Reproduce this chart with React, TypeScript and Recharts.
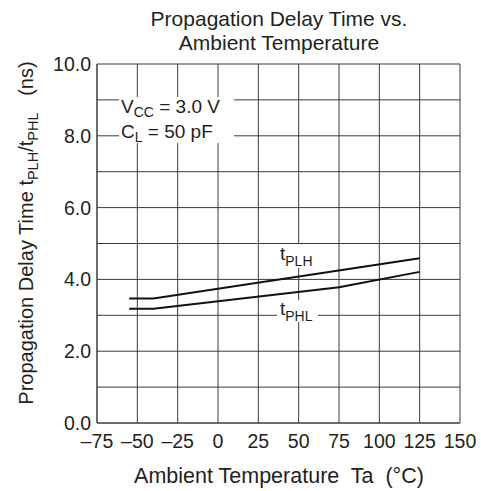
import { LineChart, Line, XAxis, YAxis, CartesianGrid, Customized } from "recharts";

const X_TICKS = [-75, -50, -25, 0, 25, 50, 75, 100, 125, 150];
const Y_TICKS = [0, 1, 2, 3, 4, 5, 6, 7, 8, 9, 10];

const TEMP_PLH = [-55, -40, 125];
const DELAY_PLH = [3.47, 3.47, 4.59];
const TEMP_PHL = [-55, -40, 75, 125];
const DELAY_PHL = [3.18, 3.18, 3.78, 4.21];

const plh = TEMP_PLH.map((t, i) => ({ t, v: DELAY_PLH[i] }));
const phl = TEMP_PHL.map((t, i) => ({ t, v: DELAY_PHL[i] }));

const FONT = "'Liberation Sans', Arial, sans-serif";
const TXT = "#231f20";
const GRID = "#3a3a3a";

const fmtX = (v: number) => (v < 0 ? "\u2013" + Math.abs(v) : String(v));

const XTick = (p: any) => (
  <text x={p.x} y={p.y} dy={25} textAnchor="middle" fontSize={19.5} fill={TXT} fontFamily={FONT}>
    {fmtX(p.payload.value)}
  </text>
);

const YTick = (p: any) =>
  p.payload.value % 2 === 0 ? (
    <text x={p.x} y={p.y} dy={7} textAnchor="end" fontSize={19.5} fill={TXT} fontFamily={FONT}>
      {p.payload.value.toFixed(1)}
    </text>
  ) : null;

const Notes = () => (
  <g fontFamily={FONT} fill={TXT}>
    <text x={279} y={26} textAnchor="middle" fontSize={21}>Propagation Delay Time vs.</text>
    <text x={279} y={50} textAnchor="middle" fontSize={21}>Ambient Temperature</text>

    <rect x={119} y={97} width={115} height={46} fill="#fff" />
    <text x={121} y={113} fontSize={19}>
      <tspan>V</tspan>
      <tspan fontSize={14} dy={4}>CC</tspan>
      <tspan dy={-4}> = 3.0 V</tspan>
    </text>
    <text x={121} y={138} fontSize={19}>
      <tspan>C</tspan>
      <tspan fontSize={14} dy={4}>L</tspan>
      <tspan dy={-4}> = 50 pF</tspan>
    </text>

    <rect x={278} y={244} width={40} height={24} fill="#fff" />
    <text x={280} y={260} fontSize={19}>
      <tspan>t</tspan>
      <tspan fontSize={14} dy={6}>PLH</tspan>
    </text>
    <rect x={277} y={300} width={41} height={22} fill="#fff" />
    <text x={280} y={315} fontSize={19}>
      <tspan>t</tspan>
      <tspan fontSize={14} dy={6}>PHL</tspan>
    </text>

    <text x={33} y={233} textAnchor="middle" fontSize={20} transform="rotate(-90 33 233)">
      <tspan>Propagation Delay Time t</tspan>
      <tspan fontSize={14.5} dy={5}>PLH</tspan>
      <tspan dy={-5}>/t</tspan>
      <tspan fontSize={14.5} dy={5}>PHL</tspan>
      <tspan dy={-5} xmlSpace="preserve">{"   (ns)"}</tspan>
    </text>

    <text x={279} y={483} textAnchor="middle" fontSize={21.5} xmlSpace="preserve">
      {"Ambient Temperature  Ta  (\u00B0C)"}
    </text>
  </g>
);

export default function App() {
  return (
    <div style={{ position: "absolute", left: 0, top: 0, background: "#fff" }}>
      <LineChart width={481} height={491} margin={{ top: 64, right: 21, bottom: 0, left: 0 }}>
        <CartesianGrid stroke={GRID} strokeWidth={1} />
        <XAxis
          type="number"
          dataKey="t"
          domain={[-75, 150]}
          ticks={X_TICKS}
          interval={0}
          tickLine={false}
          tickSize={0}
          tickMargin={0}
          axisLine={{ stroke: GRID }}
          tick={<XTick />}
          height={68}
        />
        <YAxis
          type="number"
          dataKey="v"
          domain={[0, 10]}
          ticks={Y_TICKS}
          interval={0}
          tickLine={false}
          tickSize={0}
          tickMargin={6}
          axisLine={{ stroke: GRID }}
          tick={<YTick />}
          width={97}
        />
        <Customized component={Notes} />
        <Line data={plh} dataKey="v" stroke="#111" strokeWidth={2} dot={false} isAnimationActive={false} />
        <Line data={phl} dataKey="v" stroke="#111" strokeWidth={2} dot={false} isAnimationActive={false} />
      </LineChart>
    </div>
  );
}
